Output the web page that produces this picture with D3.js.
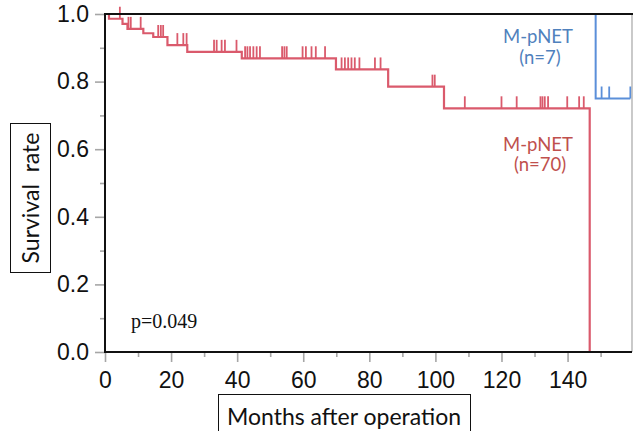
<!DOCTYPE html>
<meta charset="utf-8">
<style>
body{margin:0;background:#fff;}
svg{display:block;}
.tick text{font-family:"Liberation Sans",Arial,sans-serif;font-size:23px;fill:#111;}
.tick line{stroke:#a6a6a6;stroke-width:1.6;}
.box text{font-family:Lato,sans-serif;fill:#111;}
</style>
<svg width="633" height="431"></svg>
<script src="https://d3js.org/d3.v7.min.js"></script>
<script>
// Kaplan-Meier steps: [month, survival after the step]
var redSteps = [[0,1],[1.2,0.986],[5.3,0.971],[6.8,0.956],[11.6,0.943],[14.6,0.932],
  [18.9,0.908],[24.9,0.888],[41.4,0.869],[69.9,0.836],[85.7,0.785],[102.6,0.721],[146.7,0]];
var redCensored = [4.5,7.1,7.8,10.8,16.1,16.9,17.6,21.9,23.7,24.7,33,33.8,35.3,36.3,39.8,
  42.4,43.1,43.9,44.9,45.9,46.9,53.6,54.3,55,59.8,60.8,62.5,63.8,66.6,71.6,72.6,73.6,74.6,
  75.6,77,81.7,83.4,99.1,99.8,108.9,120,124.6,131.8,132.4,133.1,134.1,139.9,143.5,144.9];
var blueSteps = [[0,1],[148.5,0.75]];
var blueEnd = 159;
var blueCensored = [150.3,152.6,159];

var xMajor = [0,20,40,60,80,100,120,140];
var xMinor = [10,30,50,70,90,110,130,150];
var yMajor = [0,0.2,0.4,0.6,0.8,1.0];
var yMinor = [0.1,0.3,0.5,0.7,0.9];

var redColor = "#da5a6c", blueColor = "#5b8fd9";

var svg = d3.select("svg");
var x = d3.scaleLinear().domain([0,159.5]).range([105,632]);
var y = d3.scaleLinear().domain([0,1]).range([352,14]);

function survAt(steps, t){
  var s = steps[0][1];
  steps.forEach(function(d){ if(d[0] <= t) s = d[1]; });
  return s;
}

// axes
var gx = svg.append("g").attr("transform","translate(0,352)")
  .call(d3.axisBottom(x).tickValues(xMajor).tickSize(10).tickPadding(10).tickFormat(d3.format("d")));
gx.select(".domain").remove();
var gxm = svg.append("g").attr("transform","translate(0,352)")
  .call(d3.axisBottom(x).tickValues(xMinor).tickSize(5).tickFormat(""));
gxm.select(".domain").remove();

var gy = svg.append("g").attr("transform","translate(105,0)")
  .call(d3.axisLeft(y).tickValues(yMajor).tickSize(10).tickPadding(6).tickFormat(d3.format(".1f")));
gy.select(".domain").remove();
var gym = svg.append("g").attr("transform","translate(105,0)")
  .call(d3.axisLeft(y).tickValues(yMinor).tickSize(5).tickFormat(""));
gym.select(".domain").remove();

var line = d3.line().x(function(d){return x(d[0]);}).y(function(d){return y(d[1]);})
  .curve(d3.curveStepAfter);

// blue curve
svg.append("path").attr("d", line(blueSteps.concat([[blueEnd, blueSteps[blueSteps.length-1][1]]])))
  .attr("fill","none").attr("stroke",blueColor).attr("stroke-width",2);
svg.selectAll(".bc").data(blueCensored).enter().append("line")
  .attr("x1",function(d){return x(d);}).attr("x2",function(d){return x(d);})
  .attr("y1",function(d){return y(survAt(blueSteps,d));})
  .attr("y2",function(d){return y(survAt(blueSteps,d))-12;})
  .attr("stroke",blueColor).attr("stroke-width",1.8);

// red curve
svg.append("path").attr("d", line(redSteps))
  .attr("fill","none").attr("stroke",redColor).attr("stroke-width",2.2);
svg.selectAll(".rc").data(redCensored).enter().append("line")
  .attr("x1",function(d){return x(d);}).attr("x2",function(d){return x(d);})
  .attr("y1",function(d){return y(survAt(redSteps,d));})
  .attr("y2",function(d){return y(survAt(redSteps,d))-12;})
  .attr("stroke",redColor).attr("stroke-width",1.8);

// frame
svg.append("line").attr("x1",632).attr("x2",632).attr("y1",14).attr("y2",352)
  .attr("stroke","#a6a6a6").attr("stroke-width",1.2);
svg.append("line").attr("x1",104).attr("x2",633).attr("y1",14).attr("y2",14)
  .attr("stroke","#111").attr("stroke-width",2);
svg.append("line").attr("x1",105).attr("x2",105).attr("y1",13).attr("y2",353)
  .attr("stroke","#111").attr("stroke-width",2);
svg.append("line").attr("x1",104).attr("x2",632).attr("y1",352).attr("y2",352)
  .attr("stroke","#111").attr("stroke-width",2);

// legend labels
function label(t1, t2, cx, y1, y2, col){
  var g = svg.append("g").attr("font-family","Lato, sans-serif").attr("font-size",18.5)
    .attr("fill",col).attr("text-anchor","middle");
  g.append("text").attr("x",cx).attr("y",y1).text(t1);
  g.append("text").attr("x",cx+2).attr("y",y2).text(t2);
}
label("M-pNET","(n=7)",538,42.5,64,"#4f81bd");
label("M-pNET","(n=70)",538,150.5,171,"#c0504d");

svg.append("text").attr("x",131).attr("y",327.5)
  .attr("font-family","'Liberation Serif','Times New Roman',serif").attr("font-size",20)
  .attr("fill","#111").text("p=0.049");

// axis title boxes
var yb = svg.append("g").attr("class","box");
yb.append("rect").attr("x",10.5).attr("y",123.5).attr("width",40).attr("height",149)
  .attr("fill","#fff").attr("stroke","#111").attr("stroke-width",1);
yb.append("text").attr("transform","translate(38.5,198) rotate(-90)")
  .attr("text-anchor","middle").attr("font-size",23).text("Survival  rate").style("white-space","pre");

var xb = svg.append("g").attr("class","box");
xb.append("rect").attr("x",218.5).attr("y",394.5).attr("width",252).attr("height",45)
  .attr("fill","#fff").attr("stroke","#111").attr("stroke-width",1);
xb.append("text").attr("x",344).attr("y",425)
  .attr("text-anchor","middle").attr("font-size",23).text("Months after operation");
</script>
</html>
